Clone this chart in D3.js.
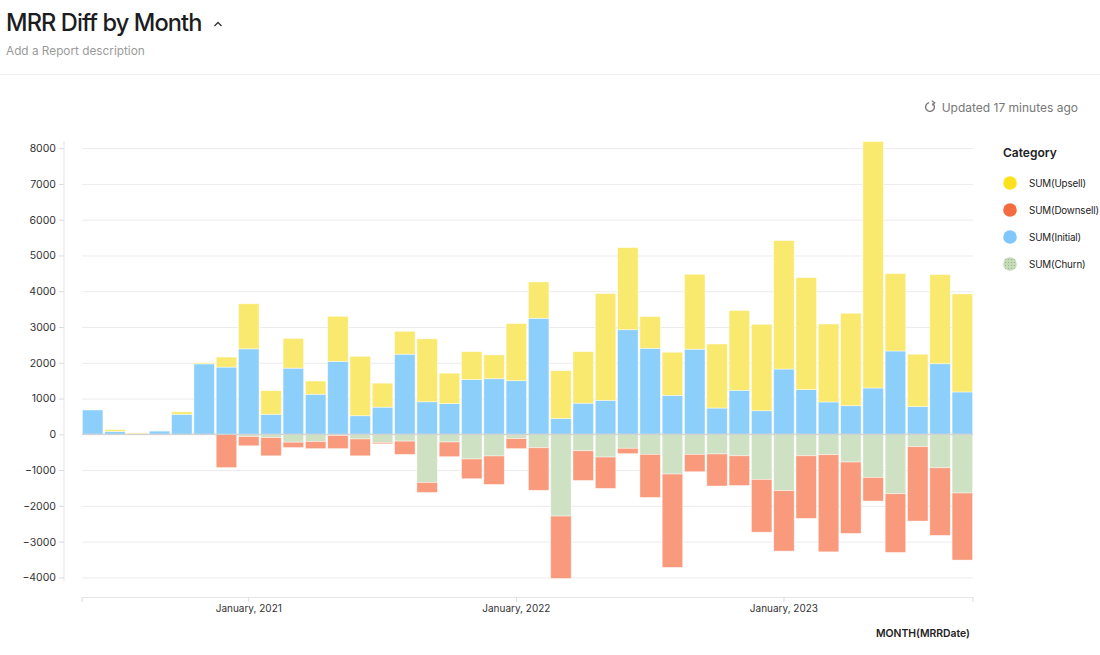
<!DOCTYPE html>
<html>
<head>
<meta charset="utf-8">
<script src="https://cdn.jsdelivr.net/npm/d3@7"></script>
<style>
  html, body { margin: 0; padding: 0; background: #fff; }
  body { width: 1100px; height: 655px; overflow: hidden; font-family: Inter, "Noto Sans", sans-serif; }
</style>
</head>
<body>
<svg id="chart" width="1100" height="655"></svg>
<script>
const months = ["2020-06","2020-07","2020-08","2020-09","2020-10","2020-11","2020-12",
  "2021-01","2021-02","2021-03","2021-04","2021-05","2021-06","2021-07","2021-08","2021-09","2021-10","2021-11","2021-12",
  "2022-01","2022-02","2022-03","2022-04","2022-05","2022-06","2022-07","2022-08","2022-09","2022-10","2022-11","2022-12",
  "2023-01","2023-02","2023-03","2023-04","2023-05","2023-06","2023-07","2023-08","2023-09"];
const initial = [680, 80, 10, 90, 560, 1970, 1880, 2390, 560, 1850, 1120, 2040, 520, 760, 2240, 910, 860, 1530, 1555, 1500,
  3245, 440, 870, 950, 2925, 2405, 1090, 2380, 735, 1230, 660, 1825, 1250, 905, 800, 1295, 2330, 775, 1975, 1185];
const upsell = [0, 50, 30, 0, 70, 30, 280, 1260, 660, 830, 370, 1260, 1660, 670, 640, 1760, 850, 780, 665, 1595,
  1015, 1340, 1440, 2985, 2295, 885, 1205, 2095, 1790, 2230, 2415, 3590, 3130, 2180, 2585, 6890, 2165, 1465, 2490, 2740];
const churn = [-10, 0, -10, 0, 0, 0, 0, -60, -90, -220, -200, -30, -130, -225, -190, -1345, -215, -690, -605, -120,
  -375, -2285, -460, -635, -390, -560, -1110, -560, -550, -600, -1260, -1575, -600, -570, -775, -1205, -1660, -345, -935, -1640];
const downsell = [0, 0, 0, -20, 0, 0, -930, -260, -510, -150, -200, -370, -470, -40, -370, -280, -410, -550, -795, -280,
  -1190, -1745, -830, -875, -150, -1205, -2610, -485, -895, -830, -1475, -1690, -1750, -2715, -1995, -660, -1640, -2080, -1890, -1875];
const yTicks = [-4000, -3000, -2000, -1000, 0, 1000, 2000, 3000, 4000, 5000, 6000, 7000, 8000];
const xTickMonths = ["2021-01", "2022-01", "2023-01"];
const xTickLabels = ["January, 2021", "January, 2022", "January, 2023"];
const legendLabels = ["SUM(Upsell)", "SUM(Downsell)", "SUM(Initial)", "SUM(Churn)"];

const svg = d3.select("#chart");

// Header
svg.append("text").attr("x", 6).attr("y", 31).attr("font-size", 23.6).attr("fill", "#1d1d1f")
  .attr("font-weight", 500).attr("letter-spacing", -0.9).text("MRR Diff by Month");
svg.append("path").attr("d", "M214.5,26 L218,22.5 L221.5,26").attr("fill", "none").attr("stroke", "#333").attr("stroke-width", 1.3);
svg.append("text").attr("x", 6).attr("y", 55).attr("font-size", 11.8).attr("fill", "#9a9a9a").text("Add a Report description");
svg.append("line").attr("x1", 0).attr("x2", 1100).attr("y1", 74.5).attr("y2", 74.5).attr("stroke", "#efefef");

// Updated
const ic = svg.append("g").attr("transform", "translate(930,107)");
ic.append("path").attr("d", d3.arc()({innerRadius: 4.4, outerRadius: 4.4, startAngle: 0.6, endAngle: 2 * Math.PI - 0.2}))
  .attr("fill", "none").attr("stroke", "#777").attr("stroke-width", 1.4);
ic.append("path").attr("d", "M1.8,-6.3 L4.8,-4.2 L2.2,-1.6").attr("fill", "none").attr("stroke", "#777").attr("stroke-width", 1.2);
svg.append("text").attr("x", 1078).attr("y", 111.5).attr("text-anchor", "end").attr("font-size", 12)
  .attr("fill", "#777").text("Updated 17 minutes ago");

// Scales
const x = d3.scaleBand().domain(months).range([81.5, 973.5]).paddingInner(0.08).paddingOuter(0.04);
const y = d3.scaleLinear().domain([-4100, 8200]).range([581, 141]);

// Grid
svg.append("g").selectAll("line").data(yTicks).join("line")
  .attr("x1", 82).attr("x2", 973).attr("y1", d => y(d) + 0.5).attr("y2", d => y(d) + 0.5)
  .attr("stroke", "#ececf0").attr("stroke-width", 1);

// Y axis
const yAxis = svg.append("g").attr("transform", "translate(64,0)")
  .call(d3.axisLeft(y).tickValues(yTicks).tickSize(5).tickPadding(3).tickFormat(d3.format("d")));
yAxis.select(".domain").attr("stroke", "#e3e5ea").attr("d", `M0,${y(8200)}V${y(-4100)}`);
yAxis.selectAll(".tick line").attr("stroke", "#d8dbe0");
yAxis.selectAll(".tick text").attr("font-size", 10.5).attr("fill", "#333").attr("font-family", "Inter, sans-serif");

// Colors
const colors = { upsell: "#f9e96f", downsell: "#f89a7b", initial: "#8dcffb", churn: "#cfe1c3" };
const defs = svg.append("defs");
const pat = defs.append("pattern").attr("id", "dots").attr("width", 3).attr("height", 3).attr("patternUnits", "userSpaceOnUse");
pat.append("rect").attr("width", 3).attr("height", 3).attr("fill", "#c4dab8");
pat.append("circle").attr("cx", 1.5).attr("cy", 1.5).attr("r", 0.55).attr("fill", "#93b285");

// Stacked segments
const segs = [];
months.forEach((m, i) => {
  segs.push({ m, key: "initial", y0: 0, y1: initial[i] });
  segs.push({ m, key: "upsell", y0: initial[i], y1: initial[i] + upsell[i] });
  segs.push({ m, key: "churn", y0: 0, y1: churn[i] });
  segs.push({ m, key: "downsell", y0: churn[i], y1: churn[i] + downsell[i] });
});
svg.append("g").selectAll("rect").data(segs.filter(s => s.y1 !== s.y0)).join("rect")
  .attr("x", d => x(d.m)).attr("width", x.bandwidth())
  .attr("y", d => y(Math.max(d.y0, d.y1)))
  .attr("height", d => Math.abs(y(d.y0) - y(d.y1)))
  .attr("fill", d => colors[d.key])
  .attr("stroke", "#ffffff").attr("stroke-opacity", 0.55).attr("stroke-width", 0.8);

// zero line
svg.append("line").attr("x1", 82).attr("x2", 973).attr("y1", y(0)).attr("y2", y(0))
  .attr("stroke", "#d2d2d2").attr("stroke-width", 1.2);

// X axis
const xg = svg.append("g").attr("transform", "translate(0,597)");
xg.append("line").attr("x1", 82).attr("x2", 973).attr("y1", 0.5).attr("y2", 0.5).attr("stroke", "#e3e5ea");
const tickPos = [82, ...xTickMonths.map(m => x(m) + x.bandwidth() / 2), 973];
xg.selectAll("line.t").data(tickPos).join("line").attr("class", "t")
  .attr("x1", d => d).attr("x2", d => d).attr("y1", 0).attr("y2", 5).attr("stroke", "#d8dbe0");
xg.selectAll("text").data(xTickMonths).join("text")
  .attr("x", (d) => x(d) + x.bandwidth() / 2).attr("y", 15).attr("text-anchor", "middle")
  .attr("font-size", 10).attr("fill", "#333").text((d, i) => xTickLabels[i]);
svg.append("text").attr("x", 970).attr("y", 637).attr("text-anchor", "end").attr("font-size", 10.4)
  .attr("font-weight", 600).attr("fill", "#222").text("MONTH(MRRDate)");

// Legend
svg.append("text").attr("x", 1003).attr("y", 157).attr("font-size", 12).attr("font-weight", 600)
  .attr("fill", "#222").text("Category");
const legFill = ["#fbe21c", "#f46b40", "#80c8fb", "url(#dots)"];
const lg = svg.append("g").selectAll("g").data(legendLabels).join("g")
  .attr("transform", (d, i) => `translate(1010,${183 + i * 27})`);
lg.append("circle").attr("r", 6.8).attr("fill", (d, i) => legFill[i]);
lg.append("text").attr("x", 19).attr("y", 4).attr("font-size", 9.8).attr("letter-spacing", -0.15)
  .attr("fill", "#222").text(d => d);
</script>
</body>
</html>
